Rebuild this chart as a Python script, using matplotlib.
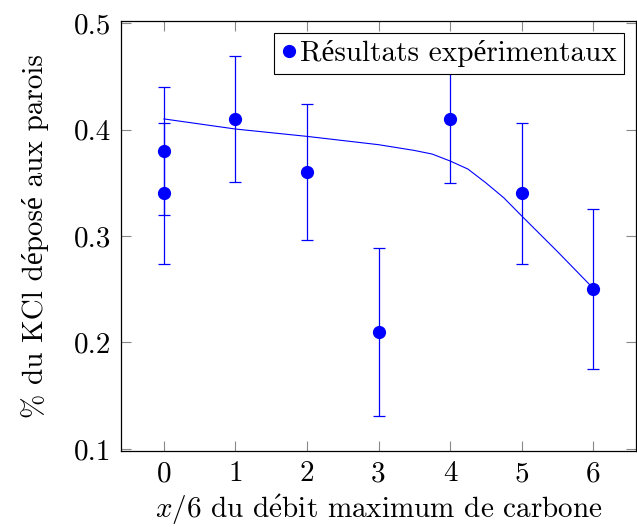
import matplotlib
matplotlib.use("Agg")
import matplotlib.pyplot as plt
from matplotlib.lines import Line2D

plt.rcParams["font.family"] = ["cmr10", "Liberation Serif"]
plt.rcParams["mathtext.fontset"] = "cm"
plt.rcParams["axes.formatter.use_mathtext"] = True

# experimental points
x_pts = [0, 0, 1, 2, 3, 4, 5, 6]
y_pts = [0.38, 0.34, 0.41, 0.36, 0.21, 0.41, 0.34, 0.25]
y_err = [0.06, 0.066, 0.059, 0.064, 0.079, 0.06, 0.066, 0.075]

# fitted curve
x_fit = [0, 1, 2, 3, 3.5, 3.75, 4, 4.25, 4.5, 4.75, 5, 5.5, 6]
y_fit = [0.410, 0.4005, 0.3936, 0.3858, 0.3804, 0.377, 0.3705, 0.3629,
         0.350, 0.336, 0.319, 0.2855, 0.251]

xticks = [0, 1, 2, 3, 4, 5, 6]
yticks = [0.1, 0.2, 0.3, 0.4, 0.5]

BLUE = "#0000ff"
FS = 21

fig = plt.figure(figsize=(6.37, 5.27), dpi=100)
ax = fig.add_axes([121 / 637, 1 - 451 / 527, 515 / 637, 430 / 527])

ax.plot(x_fit, y_fit, color=BLUE, lw=0.8, zorder=2)
ax.errorbar(x_pts, y_pts, yerr=y_err, fmt="o", color=BLUE, ms=8.5,
            elinewidth=0.9, capsize=4.5, capthick=0.9, zorder=3)

ax.set_xlim(-0.6, 6.6)
ax.set_ylim(0.098, 0.502)
ax.set_xticks(xticks)
ax.set_yticks(yticks)
ax.set_xticklabels([str(t) for t in xticks])
ax.set_yticklabels([f"{t:.1f}" for t in yticks])
ax.tick_params(direction="in", length=7, width=0.8, color="#888888",
               top=True, right=True, labelsize=FS, pad=7)
for s in ax.spines.values():
    s.set_linewidth(0.9)

ax.set_xlabel("$x$/6 du d$\\acute{\\rm e}$bit maximum de carbone", fontsize=FS, labelpad=4)
ax.set_ylabel("% du KCl déposé aux parois", fontsize=FS, labelpad=18)

handle = Line2D([], [], marker="o", color=BLUE, ls="none", ms=8.5)
leg = ax.legend([handle], ["Résultats expérimentaux"], loc="upper right",
                fontsize=FS, frameon=True, fancybox=False, framealpha=1,
                edgecolor="black", handlelength=0.5, handletextpad=0.15,
                borderpad=0.25, borderaxespad=0.4)
leg.get_frame().set_linewidth(0.8)
leg.set_zorder(5)

fig.savefig("out.png", dpi=100)
